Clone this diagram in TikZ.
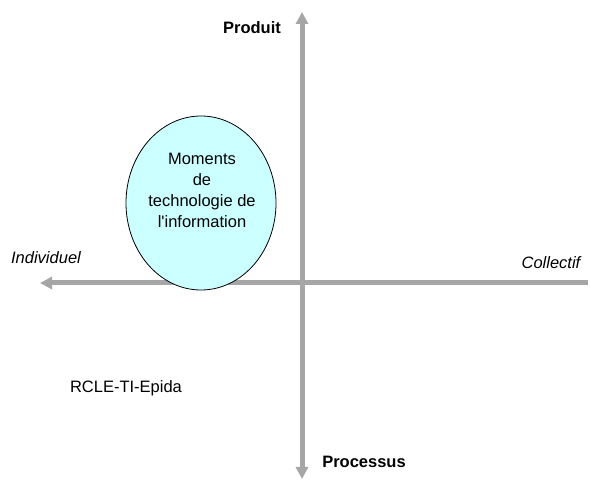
\documentclass[tikz,border=0pt]{standalone}
\usepackage{fontspec}
\setmainfont{Liberation Sans}
\usetikzlibrary{arrows.meta,shapes.geometric}
\definecolor{axegris}{RGB}{166,166,166}
\definecolor{bulleciel}{RGB}{204,255,255}

\tikzset{
 axe/.style={draw=axegris,line width=5pt},
 pointe/.tip={Triangle[length=12pt,width=12pt,fill=axegris]},
 bulle/.style={ellipse,draw=black,line width=0.8pt,fill=bulleciel,minimum width=150pt,minimum height=174pt,inner sep=0pt},
 titre/.style={font=\bfseries},
 pole/.style={font=\itshape}
}

\begin{document}
\begin{tikzpicture}[x=1pt,y=-1pt]
%%%%%axes
\def\xa{302}
\def\ya{283}
\useasboundingbox (0,0) rectangle (590,481);
\fontsize{16.5}{21}\selectfont

\coordinate (haut) at (\xa,12);
\coordinate (bas) at (\xa,479);
\coordinate (gauche) at (40,\ya);
\coordinate (droite) at (588,\ya);

\draw[axe,pointe-pointe] (bas) -- (haut);
\draw[axe,-pointe] (droite) -- (gauche);

%%%%%bulle
\node[bulle] (moments) at (201,203) {};
\node[align=center] (momentsT) at (202,190) {Moments\\de\\technologie de\\l\textquotesingle information};

%%%%%etiquettes
\node[titre] (produit) at (252,28) {Produit};
\node[titre] (processus) at (364,462) {Processus};
\node[pole] (individuel) at (46,258) {Individuel};
\node[pole] (collectif) at (551,263) {Collectif};
\node (source) at (126,388) {RCLE-TI-Epida};
\end{tikzpicture}
\end{document}
